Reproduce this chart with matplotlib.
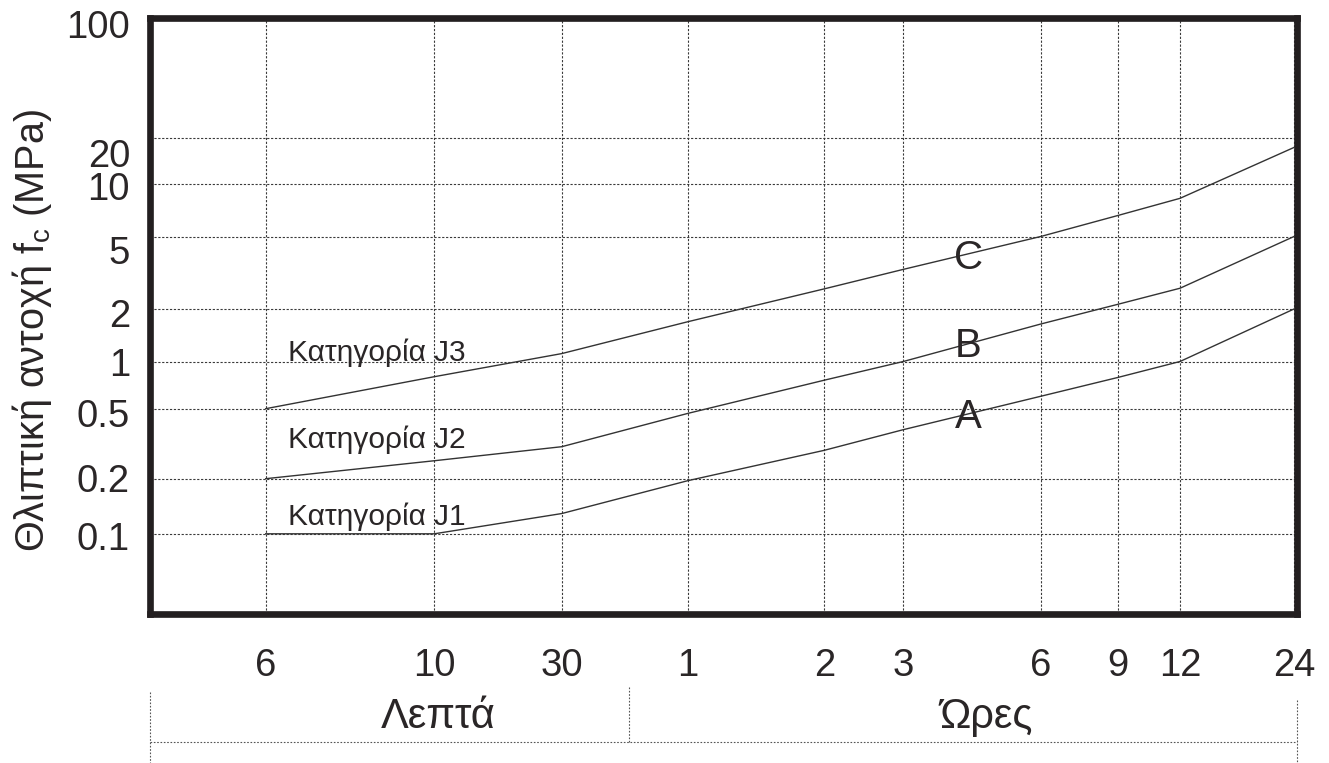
import numpy as np
import matplotlib
matplotlib.use("Agg")
import matplotlib.pyplot as plt
from matplotlib.lines import Line2D
from matplotlib.transforms import offset_copy

plt.rcParams['font.family'] = ['Liberation Sans', 'DejaVu Sans']
plt.rcParams['mathtext.fontset'] = 'custom'
plt.rcParams['mathtext.rm'] = 'Liberation Sans'
plt.rcParams['mathtext.it'] = 'Liberation Sans:italic'

# curing time, everything kept in minutes
t_min = [6, 10, 30, 60, 120, 180, 360, 540, 720, 1440]
t_labels = ['6', '10', '30', '1', '2', '3', '6', '9', '12', '24']

# compressive strength gridlines (MPa)
fc_ticks = [0.1, 0.2, 0.5, 1, 2, 5, 10, 20, 100]
fc_labels = ['0.1', '0.2', '0.5', '1', '2', '5', '10', '20', '100']

# the three class curves, read at every time tick
fc_J1 = [0.10, 0.10, 0.129, 0.195, 0.29, 0.38, 0.60, 0.79, 1.0, 2.0]
fc_J2 = [0.20, 0.253, 0.304, 0.47, 0.76, 1.0, 1.64, 2.12, 2.6, 5.0]
fc_J3 = [0.50, 0.80, 1.11, 1.69, 2.58, 3.3, 5.0, 6.6, 8.3, 17.3]

ink = '#2a2627'

# the printed axes are not uniform, so the scale is built from where each
# tick sits on the original sheet (px), with an extra anchor on each end
x_px = [0] + [265.7, 434.3, 561.7, 687.7, 824.3, 903.3, 1040.7, 1117.5, 1180, 1294] + [1500]
x_lg = np.log10([1] + t_min + [10000])
y_px = [-800] + [-533.8, -478.7, -408.7, -361.5, -309, -236.5, -184.3, -137.7, -21] + [200]
y_lg = np.log10([0.01] + fc_ticks + [1000])


def fwd_x(v):
    return np.interp(np.log10(np.clip(np.asarray(v, float), 1e-9, None)), x_lg, x_px)


def inv_x(p):
    return 10 ** np.interp(np.asarray(p, float), x_px, x_lg)


def fwd_y(v):
    return np.interp(np.log10(np.clip(np.asarray(v, float), 1e-9, None)), y_lg, y_px)


def inv_y(p):
    return 10 ** np.interp(np.asarray(p, float), y_px, y_lg)


fig = plt.figure(figsize=(13.29, 7.63), dpi=100)
ax = fig.add_axes([150 / 1329, (763 - 614.3) / 763, 1146.7 / 1329, 596 / 763])
ax.set_xscale('function', functions=(fwd_x, inv_x))
ax.set_yscale('function', functions=(fwd_y, inv_y))

for fc in (fc_J1, fc_J2, fc_J3):
    ax.plot(t_min, fc, color='#333333', lw=1.0, zorder=3)

ax.set_xlim(float(inv_x(150)), float(inv_x(1296.7)))
ax.set_ylim(float(inv_y(-614.3)), float(inv_y(-18.3)))

ax.set_xticks(t_min)
ax.set_xticklabels(t_labels)
ax.tick_params(axis='x', length=0, pad=24, labelsize=27.5, labelcolor=ink)
ax.set_yticks(fc_ticks[:-1])
ax.set_yticklabels([])
ax.tick_params(axis='y', length=0)
ax.minorticks_off()
ax.grid(True, ls=(0, (2, 1.5)), lw=0.8, color='#3a3a3a')

for s in ax.spines.values():
    s.set_linewidth(4.8)
    s.set_color('#231f20')

# y labels by hand: 20 and 5 are pushed down on the original
nudge = [16, 13, 18, 15, 18, 27, 16, 29, 17]
for v, lab, dy in zip(fc_ticks, fc_labels, nudge):
    tr = offset_copy(ax.get_yaxis_transform(), fig=fig, x=-20, y=-dy, units='dots')
    ax.text(0, v, lab, transform=tr, ha='right', va='baseline', fontsize=27.5, color=ink)

fig.text(31.7 / 1329, 1 - 330 / 763, 'Θλιπτική αντοχή f$_\\mathrm{c}$ (MPa)',
         rotation=90, ha='center', va='center', fontsize=28.5, color=ink)

# class names and curve letters
ax.text(0.1206, 0.425, 'Κατηγορία J3', transform=ax.transAxes, fontsize=21.5, color=ink, va='baseline')
ax.text(0.1206, 0.2785, 'Κατηγορία J2', transform=ax.transAxes, fontsize=21.5, color=ink, va='baseline')
ax.text(0.1206, 0.1498, 'Κατηγορία J1', transform=ax.transAxes, fontsize=21.5, color=ink, va='baseline')
ax.text(0.7136, 0.580, 'C', transform=ax.transAxes, fontsize=29, color=ink, ha='center', va='baseline')
ax.text(0.7136, 0.432, 'B', transform=ax.transAxes, fontsize=29, color=ink, ha='center', va='baseline')
ax.text(0.7136, 0.312, 'A', transform=ax.transAxes, fontsize=29, color=ink, ha='center', va='baseline')

# units row under the axis
fig.text(438 / 1329, 1 - 727.8 / 763, 'Λεπτά', ha='center', va='baseline', fontsize=30, color=ink)
fig.text(986 / 1329, 1 - 727.8 / 763, 'Ώρες', ha='center', va='baseline', fontsize=30, color=ink)

row = dict(transform=ax.transAxes, clip_on=False, color='#555555', lw=0.8, ls=(0, (1.5, 1.5)))
ax.add_artist(Line2D([0, 1], [-0.2138, -0.2138], **row))
ax.add_artist(Line2D([0, 0], [-0.1299, -0.2495], **row))
ax.add_artist(Line2D([0.418, 0.418], [-0.1215, -0.2138], **row))
ax.add_artist(Line2D([1, 1], [-0.1438, -0.2495], **row))

fig.savefig('out.png', dpi=100)
